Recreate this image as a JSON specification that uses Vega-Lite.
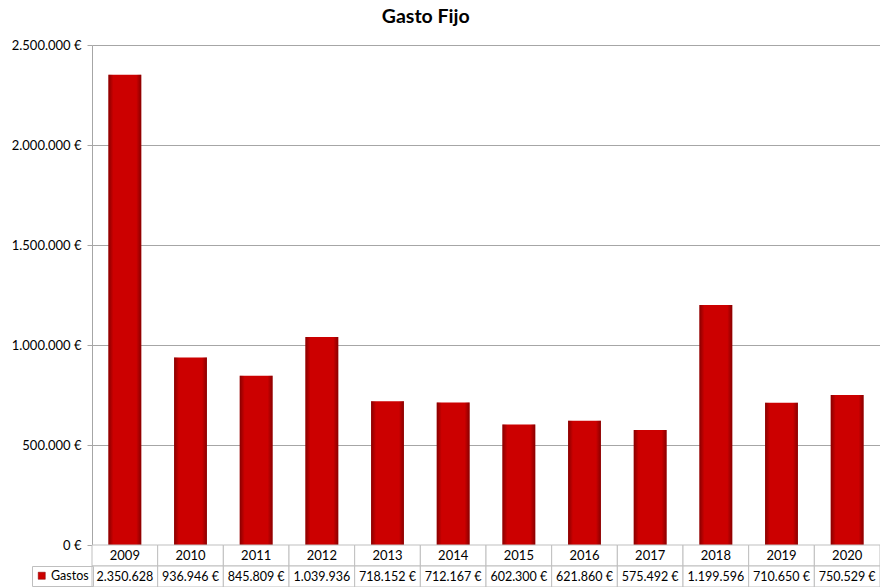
{
  "$schema": "https://vega.github.io/schema/vega-lite/v6.json",
  "padding": {"left": 5, "top": 6, "right": 0, "bottom": 0},
  "background": "white",
  "bounds": "flush",
  "title": {"text": "Gasto Fijo", "font": "Lato", "fontSize": 19.5, "fontWeight": "bold", "anchor": "middle", "offset": 12, "color": "#000000", "dx": -17},
  "config": {
    "locale": {"number": {"decimal": ",", "thousands": ".", "grouping": [3], "currency": ["", " €"]}},
    "view": {"stroke": null},
    "font": "Lato"
  },
  "data": {"values": [
    {"anio": "2009", "gasto": 2350628, "texto": "2.350.628", "serie": "Gastos"},
    {"anio": "2010", "gasto": 936946, "texto": "936.946 €", "serie": "Gastos"},
    {"anio": "2011", "gasto": 845809, "texto": "845.809 €", "serie": "Gastos"},
    {"anio": "2012", "gasto": 1039936, "texto": "1.039.936", "serie": "Gastos"},
    {"anio": "2013", "gasto": 718152, "texto": "718.152 €", "serie": "Gastos"},
    {"anio": "2014", "gasto": 712167, "texto": "712.167 €", "serie": "Gastos"},
    {"anio": "2015", "gasto": 602300, "texto": "602.300 €", "serie": "Gastos"},
    {"anio": "2016", "gasto": 621860, "texto": "621.860 €", "serie": "Gastos"},
    {"anio": "2017", "gasto": 575492, "texto": "575.492 €", "serie": "Gastos"},
    {"anio": "2018", "gasto": 1199596, "texto": "1.199.596", "serie": "Gastos"},
    {"anio": "2019", "gasto": 710650, "texto": "710.650 €", "serie": "Gastos"},
    {"anio": "2020", "gasto": 750529, "texto": "750.529 €", "serie": "Gastos"}
  ]},
  "spacing": 0,
  "resolve": {"scale": {"x": "independent", "y": "independent", "color": "independent"}, "legend": {"color": "independent"}},
  "vconcat": [
    {
      "width": 788,
      "height": 500,
      "encoding": {
        "x": {"field": "anio", "type": "nominal", "scale": {"paddingInner": 0.5, "paddingOuter": 0.25}, "axis": null},
        "y": {"field": "gasto", "type": "quantitative", "scale": {"domain": [0, 2500000], "nice": false},
          "axis": {"title": null, "values": [0, 500000, 1000000, 1500000, 2000000, 2500000], "format": "$,.0f",
            "labelFontSize": 13, "labelColor": "#000000", "labelPadding": 6, "tickSize": 5, "tickColor": "#a6a6a6",
            "domainColor": "#a6a6a6", "gridColor": "#a6a6a6", "gridWidth": 1, "minExtent": 87}}
      },
      "layer": [
        {
          "mark": {"type": "bar", "color": "#cc0000"}
        },
        {
          "mark": {"type": "bar", "color": {"gradient": "linear", "x1": 0, "x2": 1, "y1": 0, "y2": 0,
            "stops": [
              {"offset": 0, "color": "rgba(80,0,0,0.55)"},
              {"offset": 0.15, "color": "rgba(80,0,0,0)"},
              {"offset": 0.85, "color": "rgba(80,0,0,0)"},
              {"offset": 1, "color": "rgba(80,0,0,0.55)"}
            ]}}
        }
      ]
    },
    {
      "width": 788,
      "height": 42,
      "layer": [
        {
          "mark": {"type": "rect", "fill": "white", "stroke": "#bfbfbf", "strokeWidth": 1},
          "encoding": {
            "x": {"field": "anio", "type": "nominal", "scale": {"paddingInner": 0, "paddingOuter": 0}, "axis": null},
            "y": {"datum": "Año", "type": "nominal", "scale": {"domain": ["Año", "Gastos"], "paddingInner": 0, "paddingOuter": 0}, "axis": null}
          }
        },
        {
          "mark": {"type": "rect", "fill": "white", "stroke": "#bfbfbf", "strokeWidth": 1},
          "encoding": {
            "x": {"field": "anio", "type": "nominal"},
            "y": {"datum": "Gastos", "type": "nominal"}
          }
        },
        {
          "mark": {"type": "point", "shape": "square", "filled": true, "opacity": 0},
          "encoding": {
            "x": {"field": "anio", "type": "nominal"},
            "y": {"datum": "Gastos", "type": "nominal"},
            "color": {"field": "serie", "type": "nominal", "scale": {"range": ["#cc0000"]},
              "legend": {"orient": "none", "legendX": -60, "legendY": 21, "title": null, "symbolType": "square", "symbolSize": 50,
                "symbolOpacity": 1, "symbolStrokeColor": "#800000", "symbolStrokeWidth": 0.5, "labelFontSize": 12.5, "labelColor": "#000000",
                "labelOffset": 3, "padding": 3.5, "strokeColor": "#bfbfbf"}}
          }
        },
        {
          "mark": {"type": "text", "fontSize": 13, "color": "#000000"},
          "encoding": {
            "x": {"field": "anio", "type": "nominal"},
            "y": {"datum": "Año", "type": "nominal"},
            "text": {"field": "anio"}
          }
        },
        {
          "mark": {"type": "text", "fontSize": 12.5, "color": "#000000"},
          "encoding": {
            "x": {"field": "anio", "type": "nominal"},
            "y": {"datum": "Gastos", "type": "nominal"},
            "text": {"field": "texto"}
          }
        }
      ]
    }
  ]
}
